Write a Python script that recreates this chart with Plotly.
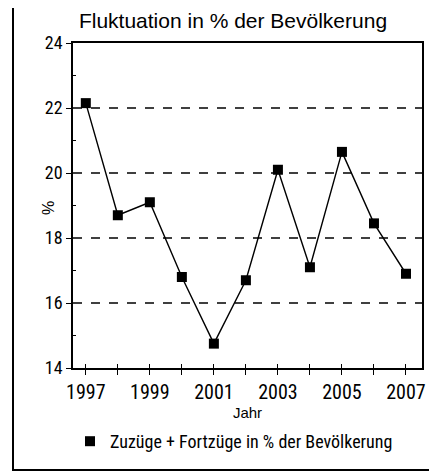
import plotly.graph_objects as go

years = [1997, 1998, 1999, 2000, 2001, 2002, 2003, 2004, 2005, 2006, 2007]
values = [22.15, 18.7, 19.1, 16.8, 14.75, 16.7, 20.1, 17.1, 20.65, 18.45, 16.9]
series_name = "Zuzüge + Fortzüge in % der Bevölkerung"
title_text = "Fluktuation in % der Bevölkerung"
y_ticks = [14, 16, 18, 20, 22, 24]
y_minor = [15, 17, 19, 21, 23]
x_ticks = [1997, 1999, 2001, 2003, 2005, 2007]

NARROW = "Liberation Sans Narrow, Arial Narrow, Roboto Condensed, Roboto, sans-serif"
SANS = "Liberation Sans, Arial, sans-serif"

# page body has an 8px margin: compensate
OFF = 8
W, H = 437 - OFF, 473 - OFF
L, T = 73 - OFF, 43 - OFF
RIGHT, BOTTOM = 422 - OFF, 368 - OFF
R, B = W - RIGHT, H - BOTTOM
pw, ph = RIGHT - L, BOTTOM - T


def px(xp):
    return (xp - OFF - L) / pw


def py(yp):
    return (BOTTOM - (yp - OFF)) / ph


fig = go.Figure()
fig.add_trace(go.Scatter(
    x=years, y=values, mode="lines+markers", name=series_name, showlegend=False,
    line=dict(color="black", width=1.4),
    marker=dict(symbol="square", size=10, color="black"),
))
fig.add_trace(go.Scatter(
    x=[None], y=[None], mode="markers", name=series_name, showlegend=True,
    marker=dict(symbol="square", size=10, color="black"),
))
fig.add_trace(go.Scatter(x=years, y=values, xaxis="x2", mode="none",
                         showlegend=False, hoverinfo="skip"))

fig.update_layout(
    width=W, height=H,
    margin=dict(l=L, r=R, t=T, b=B, autoexpand=False),
    paper_bgcolor="white", plot_bgcolor="white",
    showlegend=True,
    legend=dict(orientation="h", x=px(70), y=py(423), xanchor="left", yanchor="top",
                font=dict(family=NARROW, size=18, color="black"),
                itemwidth=30, bgcolor="rgba(0,0,0,0)"),
    title=dict(text=title_text, x=px(233), xanchor="center", xref="paper",
               y=1 - (21 - OFF) / H, yanchor="middle",
               font=dict(family=SANS, size=21, color="black")),
    xaxis=dict(range=[1996.6, 2007.5], tickmode="array", tickvals=x_ticks,
               ticks="outside", ticklen=5, tickwidth=1, tickcolor="black",
               minor=dict(tickvals=years, ticks="outside", ticklen=5, tickcolor="black", tickwidth=1),
               showgrid=False, zeroline=False,
               showline=True, linecolor="black", linewidth=1.5, mirror=True,
               tickfont=dict(family=NARROW, size=20, color="black"),
               title=dict(text="Jahr", font=dict(family=SANS, size=15, color="black"),
                          standoff=1)),
    xaxis2=dict(range=[1996.6, 2007.5], overlaying="x", side="bottom", anchor="y",
                tickvals=years, ticks="inside", ticklen=4, tickcolor="black",
                showticklabels=False, showgrid=False, zeroline=False, showline=False),
    yaxis=dict(range=[14, 24], tickmode="array", tickvals=y_ticks,
               ticks="outside", ticklen=5, tickcolor="black",
               minor=dict(tickvals=y_minor, ticks="inside", ticklen=3, tickcolor="black", tickwidth=1),
               showgrid=False, zeroline=False,
               showline=True, linecolor="black", linewidth=1.5, mirror=True,
               tickfont=dict(family=NARROW, size=18, color="black")),
    annotations=[dict(text="%", xref="paper", yref="paper", x=px(48), y=py(208),
                      xanchor="center", yanchor="middle", textangle=-90, showarrow=False,
                      font=dict(family=SANS, size=16, color="black"))],
)

for g in [16, 18, 20, 22]:
    fig.add_shape(type="line", xref="paper", x0=0, x1=1, yref="y", y0=g, y1=g,
                  line=dict(color="black", width=1.5, dash="dash"), layer="below")

fig.add_shape(type="rect", xref="paper", yref="paper",
              x0=px(13), x1=px(433), y0=py(470), y1=py(5),
              line=dict(color="black", width=2), fillcolor="rgba(0,0,0,0)")

fig.write_html("out.html")
